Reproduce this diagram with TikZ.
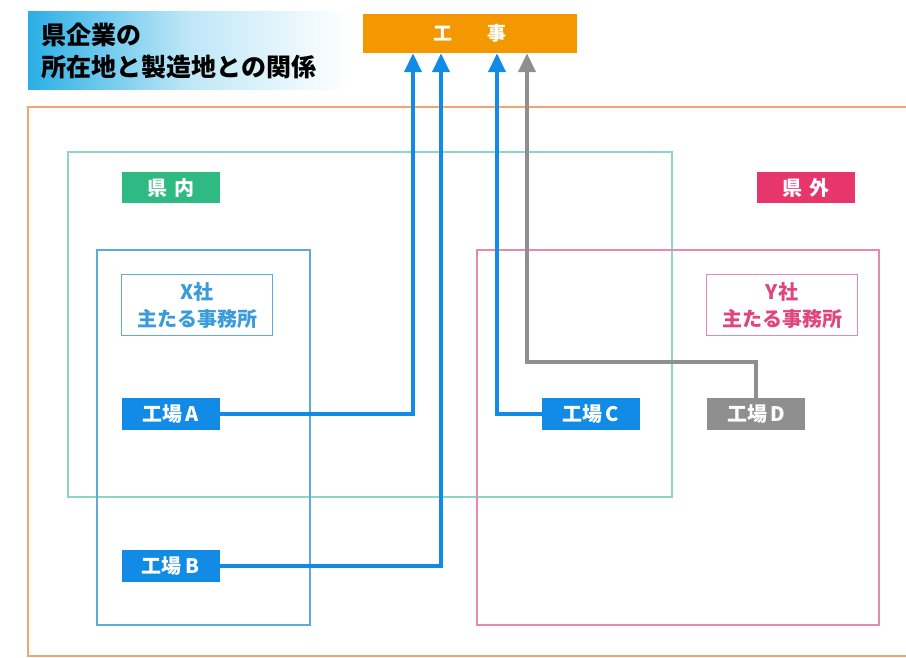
\documentclass[tikz,border=0pt]{standalone}
\usepackage{fontspec}
\setmainfont{Noto Sans CJK JP}
\usetikzlibrary{arrows.meta, calc}

\definecolor{titleblue}{HTML}{2AAFE5}
\definecolor{kojiorange}{HTML}{F39800}
\definecolor{outerorange}{HTML}{F4A46E}
\definecolor{ingreen}{HTML}{8ED5C3}
\definecolor{ingreenfill}{HTML}{2FB983}
\definecolor{outpink}{HTML}{E48AAE}
\definecolor{outpinkfill}{HTML}{E6366B}
\definecolor{xblue}{HTML}{5DAADB}
\definecolor{xtext}{HTML}{3A9BDA}
\definecolor{ytext}{HTML}{E0467E}
\definecolor{factblue}{HTML}{118BE5}
\definecolor{factgray}{HTML}{8F8F8F}

\begin{document}
\begin{tikzpicture}[x=1pt, y=-1pt,
    frame/.style={line width=1.5pt},
    tagbox/.style={inner sep=0pt, minimum width=98pt, minimum height=31pt,
        text=white, font=\fontsize{20}{22}\selectfont\bfseries},
    officebox/.style={draw, line width=1.5pt, inner sep=0pt, minimum width=151pt,
        minimum height=61pt, align=center, font=\fontsize{20}{27}\selectfont\bfseries},
    factory/.style={inner sep=0pt, minimum width=98pt, minimum height=32pt,
        text=white, font=\fontsize{20}{22}\selectfont\bfseries},
    flow/.style={draw=factblue, line width=4pt, -{Triangle[length=19pt,width=17pt]}},
    grayflow/.style={flow, draw=factgray}]
    \useasboundingbox (0,0) rectangle (906,658);

    % Title
    \shade[left color=titleblue, right color=white, middle color=titleblue!30] (28,12) rectangle (350,90);
    \node[anchor=west, align=left, font=\fontsize{25}{32}\selectfont\bfseries] (title) at (38,51)
        {県企業の\\所在地と製造地との関係};

    % Construction
    \node[fill=kojiorange, inner sep=0pt, minimum width=214pt, minimum height=39pt,
        text=white, font=\fontsize{19}{20}\selectfont\bfseries] (koji) at (470,33.5) {工\hspace{1.8em}事};

    % Frames
    \draw[outerorange, line width=2pt] (906,107) -| (28,656) -- (906,656);
    \draw[frame, ingreen] (68,152) rectangle (672,497);
    \draw[frame, xblue] (97,250) rectangle (310,625);
    \draw[frame, outpink] (477,250) rectangle (879,625);

    % Area tags
    \node[tagbox, fill=ingreenfill] (kennai) at (171,188) {県\hspace{0.4em}内};
    \node[tagbox, fill=outpinkfill] (kengai) at (806,188) {県\hspace{0.4em}外};

    % Head offices
    \node[officebox, draw=xblue, text=xtext] (officeX) at (197,305) {X社\\主たる事務所};
    \node[officebox, draw=outpink, text=ytext] (officeY) at (782,305) {Y社\\主たる事務所};

    % Factories
    \node[factory, fill=factblue] (fA) at (170.5,414) {工場\,A};
    \node[factory, fill=factblue] (fB) at (170.5,566) {工場\,B};
    \node[factory, fill=factblue] (fC) at (591,414) {工場\,C};
    \node[factory, fill=factgray] (fD) at (756,414) {工場\,D};

    % Flows to construction
    \draw[flow] (fA.east) -| ([xshift=-57pt]koji.south);
    \draw[flow] (fB.east) -| ([xshift=-29pt]koji.south);
    \draw[flow] (fC.west) -| ([xshift=27pt]koji.south);
    \draw[grayflow] (fD.north) -- ++(0,-36) -| ([xshift=57pt]koji.south);
\end{tikzpicture}
\end{document}
